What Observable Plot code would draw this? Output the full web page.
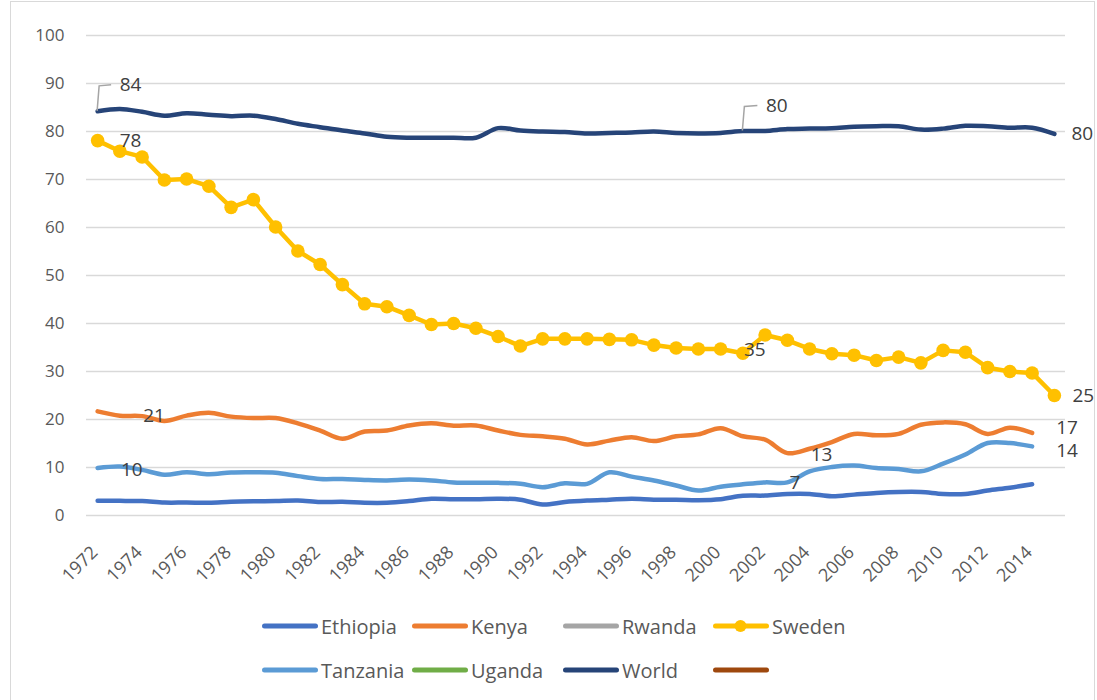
<!DOCTYPE html>
<html>
<head>
<meta charset="utf-8">
<script src="https://cdn.jsdelivr.net/npm/d3@7"></script>
<script src="https://cdn.jsdelivr.net/npm/@observablehq/plot@0.6"></script>
<style>
  html, body { margin: 0; padding: 0; background: #fff; }
  #wrap { position: relative; width: 1097px; height: 700px; overflow: hidden; font-family: "Open Sans", Lato, sans-serif; }
  #frame { position: absolute; left: 10px; top: 1px; width: 1085px; height: 760px; border: 1px solid #D9D9D9; box-sizing: border-box; pointer-events: none; }
  #chart { position: absolute; left: 0; top: 0; }
  #legend { position: absolute; left: 0; top: 600px; width: 1097px; height: 100px; }
  .item { position: absolute; display: flex; align-items: center; height: 24px; font-size: 20px; color: #595959; white-space: nowrap; }
  .item svg { margin-right: 3px; }
</style>
</head>
<body>
<div id="wrap">
  <div id="chart"></div>
  <div id="legend"></div>
  <div id="frame"></div>
</div>
<script>
// ---- Data -------------------------------------------------------------
const years = [1972,1973,1974,1975,1976,1977,1978,1979,1980,1981,1982,1983,1984,1985,1986,1987,1988,1989,1990,1991,1992,1993,1994,1995,1996,1997,1998,1999,2000,2001,2002,2003,2004,2005,2006,2007,2008,2009,2010,2011,2012,2013,2014,2015];

const ethiopia = [3.05,3.05,3.0,2.7,2.7,2.65,2.85,2.95,3.0,3.1,2.8,2.85,2.65,2.65,3.0,3.5,3.4,3.4,3.5,3.3,2.3,2.8,3.1,3.3,3.5,3.3,3.3,3.2,3.4,4.1,4.15,4.5,4.5,4.0,4.35,4.7,4.9,4.9,4.5,4.5,5.2,5.8,6.5,null];
const kenya = [21.7,20.8,20.7,19.7,20.8,21.4,20.6,20.3,20.3,19.2,17.7,16.0,17.5,17.7,18.75,19.2,18.7,18.75,17.7,16.8,16.5,16.0,14.8,15.6,16.3,15.5,16.5,16.9,18.2,16.5,15.8,13.0,13.9,15.3,17.0,16.7,17.0,18.9,19.4,19.0,17.0,18.3,17.2,null];
const rwanda = [];
const sweden = [78.1,75.9,74.7,69.9,70.1,68.6,64.2,65.8,60.1,55.1,52.3,48.1,44.1,43.5,41.7,39.8,40.0,39.0,37.3,35.3,36.8,36.8,36.8,36.7,36.6,35.5,34.9,34.7,34.7,33.8,37.6,36.5,34.7,33.7,33.4,32.3,33.0,31.8,34.4,34.0,30.8,30.0,29.7,25.0];
const tanzania = [9.9,10.2,9.5,8.5,9.0,8.6,8.96,9.0,8.9,8.2,7.6,7.6,7.4,7.3,7.5,7.3,6.9,6.8,6.8,6.6,5.9,6.7,6.6,9.0,8.1,7.3,6.25,5.2,6.0,6.5,6.9,6.9,9.2,10.1,10.4,9.9,9.7,9.2,10.8,12.7,15.1,15.1,14.4,null];
const uganda = [];
const world = [84.2,84.7,84.1,83.3,83.8,83.5,83.2,83.3,82.6,81.6,80.9,80.2,79.6,78.9,78.7,78.7,78.7,78.7,80.7,80.2,80.0,79.9,79.6,79.7,79.8,80.0,79.7,79.6,79.7,80.1,80.1,80.5,80.6,80.7,81.0,81.1,81.1,80.4,80.6,81.2,81.1,80.8,80.8,79.5];
const blankSeries = [];

const seriesNames = ["Ethiopia","Kenya","Rwanda","Sweden","Tanzania","Uganda","World",""];
const seriesColors = ["#4472C4","#ED7D31","#A5A5A5","#FFC000","#5B9BD5","#70AD47","#264478","#9E480E"];
const seriesValues = [ethiopia, kenya, rwanda, sweden, tanzania, uganda, world, blankSeries];

const yTicks = [0,10,20,30,40,50,60,70,80,90,100];
const xTickLabels = years.filter(y => y % 2 === 0);

// data labels: series, year, text
const labelSeries = ["World","Sweden","Kenya","Tanzania","Sweden","World","Kenya","Tanzania","World","Sweden","Kenya","Tanzania"];
const labelYears  = [1972,1972,1974,1973,2001,2001,2004,2003,2015,2015,2014,2014];
const labelTexts  = ["84","78","21","10","35","80","13","7","80","25","17","14"];

// ---- Build table ------------------------------------------------------
const rows = [];
seriesNames.forEach((s, i) => {
  seriesValues[i].forEach((v, j) => {
    if (v != null) rows.push({series: s, year: years[j], value: v});
  });
});
const lookup = (s, y) => rows.find(r => r.series === s && r.year === y);
const labels = labelTexts.map((t, i) => ({...lookup(labelSeries[i], labelYears[i]), text: t}));

// label offsets (style, not data)
const labelDx = [22,22,1,1,1,23,1,2,17,18,24,24];
const labelDy = [-26,0,0,3,-3,-25,6,1,0,0,-5,5];
labels.forEach((d, i) => { d.dx = labelDx[i]; d.dy = labelDy[i]; d.leader = (labelDy[i] <= -20); });

const colorOf = Object.fromEntries(seriesNames.map((s, i) => [s, seriesColors[i]]));
const smoothRows = rows.filter(r => r.series !== "Sweden");
const swedenRows = rows.filter(r => r.series === "Sweden");

// leader lines for callout labels, drawn with the plot's own scales
const leaderMark = (index, scales) => {
  const g = d3.create("svg:g");
  labels.filter(d => d.leader).forEach(d => {
    const x = scales.x(d.year), y = scales.y(d.value);
    g.append("path")
      .attr("d", `M${x},${y}L${x + 2},${y + d.dy + 1}L${x + d.dx - 8},${y + d.dy}`)
      .attr("fill", "none").attr("stroke", "#A5A5A5").attr("stroke-width", 1.5);
  });
  return g.node();
};

const chart = Plot.plot({
  width: 1097,
  height: 600,
  marginLeft: 86,
  marginRight: 32,
  marginTop: 35,
  marginBottom: 85,
  style: {fontFamily: "'Open Sans', Lato, sans-serif", background: "transparent", overflow: "visible"},
  x: {type: "point", domain: years, padding: 0.5, round: false},
  y: {domain: [0, 100]},
  marks: [
    Plot.gridY(yTicks, {stroke: "#D9D9D9", strokeOpacity: 1, strokeWidth: 1.5}),
    Plot.axisY(yTicks, {tickSize: 0, tickPadding: 22, fontSize: 17, fill: "#595959", label: null}),
    Plot.axisX(xTickLabels, {tickSize: 0, tickRotate: -45, tickPadding: 34, fontSize: 18, fill: "#595959", label: null, tickFormat: d => String(d), textAnchor: "end", dx: -3}),
    Plot.line(smoothRows, {x: "year", y: "value", z: "series", stroke: d => colorOf[d.series], strokeWidth: 4.5, curve: "catmull-rom"}),
    Plot.line(swedenRows, {x: "year", y: "value", stroke: colorOf["Sweden"], strokeWidth: 4.5}),
    Plot.dot(swedenRows, {x: "year", y: "value", r: 6.8, fill: colorOf["Sweden"], stroke: "none"}),
    leaderMark,
    ...labels.map(d => Plot.text([d], {x: "year", y: "value", text: "text", dx: d.dx, dy: d.dy, textAnchor: "start", fontSize: 19, fill: "#404040"}))
  ]
});
document.getElementById("chart").appendChild(chart);

// ---- Legend -----------------------------------------------------------
const legend = document.getElementById("legend");
const legendCols = [262, 412, 563, 713];
const legendRows = [14, 58];
seriesNames.forEach((s, i) => {
  const item = document.createElement("div");
  item.className = "item";
  item.style.left = legendCols[i % 4] + "px";
  item.style.top = legendRows[Math.floor(i / 4)] + "px";
  const marker = s === "Sweden" ? `<circle cx="27.5" cy="12" r="6" fill="${seriesColors[i]}"/>` : "";
  item.innerHTML = `<svg width="56" height="24"><line x1="2.5" y1="12" x2="53.5" y2="12" stroke="${seriesColors[i]}" stroke-width="5" stroke-linecap="round"/>${marker}</svg><span>${s}</span>`;
  legend.appendChild(item);
});
</script>
</body>
</html>
